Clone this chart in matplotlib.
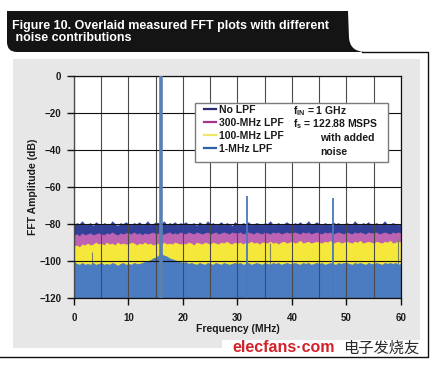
import numpy as np
import matplotlib
matplotlib.use("Agg")
import matplotlib.pyplot as plt
from matplotlib.patches import Rectangle, PathPatch
from matplotlib.path import Path
from matplotlib.lines import Line2D

plt.rcParams['font.family'] = ['Liberation Sans', 'DejaVu Sans']
plt.rcParams['mathtext.fontset'] = 'custom'
plt.rcParams['mathtext.rm'] = 'Liberation Sans:bold'
plt.rcParams['mathtext.it'] = 'Liberation Sans:bold'
plt.rcParams['mathtext.bf'] = 'Liberation Sans:bold'

# ---------------- data ----------------
title_text = "Figure 10. Overlaid measured FFT plots with different\n noise contributions"
series_names = ["No LPF", "300-MHz LPF", "100-MHz LPF", "1-MHz LPF"]

freq_mhz = np.linspace(0, 60, 121)  # 0.5 MHz sampling of the read-off envelopes

no_lpf = [
    -80.5, -79.5, -80.0, -78.5, -80.5, -80.0, -79.5, -81.0, -79.0, -80.0,
    -80.5, -79.5, -80.0, -80.5, -78.5, -80.0, -81.0, -79.5, -80.0, -79.0,
    -80.0, -80.5, -79.5, -80.0, -79.0, -80.5, -80.0, -78.5, -80.5, -80.0,
    -79.0, -79.5, -80.0, -78.5, -80.5, -79.5, -80.0, -79.0, -80.5, -79.5,
    -80.0, -79.0, -80.5, -80.0, -79.5, -81.0, -79.0, -80.0, -80.5, -78.5,
    -80.0, -79.5, -80.5, -80.0, -79.0, -80.5, -79.5, -80.0, -81.0, -79.0,
    -80.0, -80.5, -79.5, -80.0, -79.0, -80.5, -80.0, -79.5, -80.0, -80.5,
    -79.5, -80.0, -78.5, -80.5, -80.0, -79.5, -80.5, -80.0, -79.0, -80.0,
    -80.5, -79.5, -80.0, -79.0, -80.5, -80.0, -78.5, -80.5, -80.0, -79.0,
    -80.0, -80.5, -79.5, -80.0, -80.5, -79.0, -80.0, -79.5, -80.5, -80.0,
    -79.5, -80.0, -80.5, -78.5, -80.0, -80.5, -79.5, -80.0, -79.0, -80.5,
    -80.0, -79.5, -80.5, -80.0, -78.5, -80.5, -80.0, -79.5, -80.0, -80.5,
    -80.0,
]

lpf_300 = [
    -86.0, -85.5, -86.5, -85.0, -86.0, -85.5, -85.0, -86.0, -85.5, -85.0,
    -85.5, -86.0, -85.0, -85.5, -84.5, -85.5, -86.0, -85.0, -85.5, -85.0,
    -85.0, -85.5, -84.5, -85.5, -85.0, -86.0, -85.0, -85.5, -85.0, -84.5,
    -85.5, -85.0, -86.0, -85.5, -85.0, -84.5, -85.5, -85.0, -85.5, -84.5,
    -85.0, -85.5, -84.5, -85.0, -85.5, -84.5, -85.0, -85.5, -85.0, -84.5,
    -85.5, -85.0, -84.5, -85.5, -85.0, -84.5, -85.0, -85.5, -84.5, -85.0,
    -85.0, -84.5, -85.5, -85.0, -84.5, -85.0, -85.5, -84.5, -85.0, -85.5,
    -84.5, -85.0, -85.5, -84.5, -85.0, -84.5, -85.5, -85.0, -84.5, -85.0,
    -85.0, -84.5, -85.0, -85.5, -84.5, -85.0, -84.5, -85.5, -85.0, -84.5,
    -85.0, -85.5, -84.5, -85.0, -84.5, -85.5, -85.0, -84.5, -85.0, -85.5,
    -84.5, -85.0, -85.5, -84.5, -85.0, -84.5, -85.0, -85.5, -84.5, -85.0,
    -85.0, -84.5, -85.5, -85.0, -84.5, -85.0, -85.5, -84.5, -85.0, -84.5,
    -85.0,
]

lpf_100 = [
    -92.0, -91.5, -92.5, -91.0, -91.5, -90.5, -91.5, -91.0, -90.0, -91.0,
    -90.5, -91.5, -90.0, -91.0, -90.5, -91.5, -90.0, -91.0, -90.5, -91.0,
    -91.0, -90.0, -90.5, -91.5, -90.5, -91.0, -90.0, -91.0, -90.5, -91.5,
    -91.0, -90.5, -91.5, -90.0, -91.0, -90.5, -91.0, -90.0, -90.5, -91.0,
    -90.5, -91.0, -90.0, -90.5, -91.5, -90.0, -90.5, -91.0, -90.0, -90.5,
    -91.0, -90.0, -90.5, -91.0, -90.0, -90.5, -89.5, -90.5, -91.0, -90.0,
    -90.5, -90.0, -91.0, -90.0, -90.5, -89.5, -90.5, -90.0, -91.0, -90.0,
    -90.0, -90.5, -89.5, -90.5, -90.0, -91.0, -90.0, -89.5, -90.5, -90.0,
    -89.5, -90.5, -90.0, -89.0, -90.5, -90.0, -89.5, -90.5, -90.0, -89.5,
    -90.0, -90.5, -89.5, -90.0, -89.0, -90.5, -90.0, -89.5, -90.5, -90.0,
    -89.5, -90.0, -90.5, -89.5, -90.0, -89.0, -90.5, -90.0, -89.5, -90.0,
    -90.5, -89.5, -90.0, -90.5, -89.5, -90.0, -89.0, -90.5, -90.0, -89.5,
    -90.0,
]

lpf_1 = [
    -100.5, -101.5, -102.0, -101.0, -102.0, -101.5, -102.0, -101.0, -102.0, -101.5,
    -101.0, -102.0, -101.5, -102.0, -101.0, -101.5, -102.5, -101.5, -101.0, -102.0,
    -101.5, -102.0, -101.0, -101.5, -101.5, -101.0, -100.5, -100.0, -99.5, -98.5,
    -98.0, -97.0, -96.0, -97.0, -97.5, -98.5, -99.0, -99.5, -100.0, -100.5,
    -101.0, -100.5, -101.5, -101.0, -101.5, -102.0, -101.0, -101.5, -102.0, -101.0,
    -101.5, -102.0, -101.0, -101.5, -102.0, -101.0, -101.5, -102.0, -101.5, -101.0,
    -101.5, -101.0, -102.0, -101.5, -101.0, -102.0, -101.5, -101.0, -101.5, -102.0,
    -101.0, -101.5, -102.0, -101.0, -101.5, -101.0, -102.0, -101.5, -101.0, -101.5,
    -101.5, -101.0, -101.5, -102.0, -101.0, -101.5, -101.0, -102.0, -101.5, -101.0,
    -101.5, -101.0, -102.0, -101.5, -101.0, -101.5, -102.0, -101.0, -101.5, -101.0,
    -101.0, -101.5, -102.0, -101.0, -101.5, -101.0, -101.5, -102.0, -101.0, -101.5,
    -101.5, -101.0, -101.5, -102.0, -101.0, -101.5, -101.0, -101.5, -101.0, -102.0,
    -101.5,
]

# tones of the 1-MHz LPF trace (fundamental + spurs)
tone_freq = [15.9, 31.7, 47.5]
tone_level = [0.0, -65.0, -66.0]
small_spur_freq = [3.3, 36.0, 59.4]
small_spur_level = [-95.0, -90.5, -88.0]

x_ticks = [0, 10, 20, 30, 40, 50, 60]
y_ticks = [-120, -100, -80, -60, -40, -20, 0]

fill_colors = ['#323f98', '#bd63b3', '#f6e83a', '#4b7bc1']
legend_colors = ['#2b2d70', '#a3358f', '#efe866', '#2f5fa6']
fill_zorders = [1.0, 1.05, 1.1, 1.3]

# ---------------- figure ----------------
fig = plt.figure(figsize=(4.35, 3.65), dpi=100)
fig.patch.set_facecolor('white')

bg = fig.add_axes([0, 0, 1, 1], zorder=0)
bg.set_xlim(0, 435)
bg.set_ylim(365, 0)
bg.axis('off')

bg.add_patch(Rectangle((13, 59), 407, 289, facecolor='#e7e7e7', edgecolor='none'))

verts = [(7, 11), (348, 11), (349, 38), (350, 51), (364, 52), (17, 52), (7, 52), (7, 42), (7, 11)]
codes = [Path.MOVETO, Path.LINETO, Path.LINETO, Path.CURVE3, Path.CURVE3,
         Path.LINETO, Path.CURVE3, Path.CURVE3, Path.CLOSEPOLY]
bg.add_patch(PathPatch(Path(verts, codes), facecolor='#141414', edgecolor='none'))
bg.plot([362, 428, 428, 0], [51.5, 51.5, 357, 357], color='#111111', lw=1.0)

title_lines = title_text.split('\n')
bg.text(12, 28.5, title_lines[0], color='white', fontsize=9.0,
        fontweight='bold', va='baseline', ha='left')
bg.text(12, 41, title_lines[1], color='white', fontsize=9.0,
        fontweight='bold', va='baseline', ha='left')

# watermark
bg.add_patch(Rectangle((222, 340), 213, 25, facecolor='white', edgecolor='none'))
bg.text(232, 348, 'elecfans·com', color='#d2232a', fontsize=11.5, fontweight='bold',
        va='center', ha='left')
bg.text(343, 348, '电子发烧友', color='#2a2a2a', fontsize=11,
        family=['Noto Sans CJK SC', 'DejaVu Sans'], va='center', ha='left')

# main axes
L, R, T, B = 74, 401, 76, 298
ax = fig.add_axes([L / 435, 1 - B / 365, (R - L) / 435, (B - T) / 365], zorder=1)
ax.set_facecolor('white')

series = [no_lpf, lpf_300, lpf_100, lpf_1]
for vals, col, zo in zip(series, fill_colors, fill_zorders):
    ax.fill_between(freq_mhz, -120, vals, facecolor=col, edgecolor=col, lw=0.4, zorder=zo)

ax.vlines(tone_freq[0], -120, tone_level[0], color='#5a80b2', lw=2.6, zorder=3)
ax.vlines(tone_freq[1:], -120, tone_level[1:], color='#4a78bb', lw=1.3, zorder=3)
ax.vlines(small_spur_freq, -120, small_spur_level, color='#7d8060', lw=0.8, zorder=1.2)

ax.set_xlim(0, 60)
ax.set_ylim(-120, 0)
ax.set_xticks(x_ticks)
ax.set_xticks([5, 15, 25, 35, 45, 55], minor=True)
ax.set_yticks(y_ticks)
ax.set_axisbelow(False)
ax.grid(True, axis='x', which='both', color='#4a4a4a', lw=0.8)
ax.grid(True, axis='y', which='major', color='#111111', lw=0.8)
ax.tick_params(axis='both', which='major', direction='out', length=5, width=1,
               color='#111111', labelsize=7, labelcolor='#1a1a1a')
ax.tick_params(axis='x', which='minor', length=0)
ax.tick_params(axis='x', pad=6)
ax.tick_params(axis='y', pad=4)
for lab in ax.get_xticklabels() + ax.get_yticklabels():
    lab.set_fontweight('bold')
for sp in ax.spines.values():
    sp.set_color('#111111')
    sp.set_linewidth(0.9)

ax.set_xlabel('Frequency (MHz)', fontsize=7.5, fontweight='bold', color='#1a1a1a', va='center')
ax.xaxis.set_label_coords(0.5, -(329 - B) / (B - T))
ax.set_ylabel('FFT Amplitude (dB)', fontsize=7.5, fontweight='bold', color='#1a1a1a', va='center')
ax.yaxis.set_label_coords(-(L - 33) / (R - L), 0.5)

# legend box
ax.add_patch(Rectangle(((195 - L) / (R - L), (B - 162) / (B - T)),
                       (388 - 195) / (R - L), (162 - 103) / (B - T),
                       transform=ax.transAxes, facecolor='white', edgecolor='#7a7a7a',
                       lw=1.0, zorder=5))
handles = [Line2D([], [], color=c, lw=1.6) for c in legend_colors]
leg = ax.legend(handles, series_names, loc='upper left',
                bbox_to_anchor=((204 - L) / (R - L), (B - 105) / (B - T)),
                frameon=False, borderpad=0, borderaxespad=0, handlelength=1.2,
                handletextpad=0.25, labelspacing=0.28,
                prop={'weight': 'bold', 'size': 7.5})
leg.set_zorder(6)
for t in leg.get_texts():
    t.set_color('#1a1a1a')

txt_kw = dict(transform=ax.transAxes, fontsize=7.5, fontweight='bold', color='#1a1a1a',
              va='center', ha='left', zorder=7)
ax.text((293 - L) / (R - L), (B - 111) / (B - T), r'f$_{\mathrm{IN}}$ = 1 GHz', **txt_kw)
ax.text((293 - L) / (R - L), (B - 124.5) / (B - T), r'f$_{\mathrm{s}}$ = 122.88 MSPS', **txt_kw)
ax.text((320 - L) / (R - L), (B - 138) / (B - T), 'with added', **txt_kw)
ax.text((320 - L) / (R - L), (B - 152) / (B - T), 'noise', **txt_kw)

fig.savefig('out.png', dpi=100)
